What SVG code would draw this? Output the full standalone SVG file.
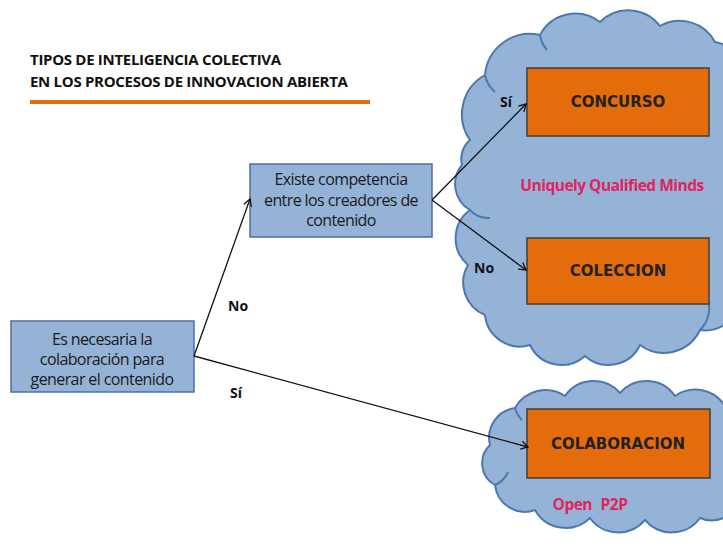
<svg xmlns="http://www.w3.org/2000/svg" width="723" height="547" viewBox="0 0 723 547">
<style>
.title{font-family:"Open Sans","Liberation Sans",sans-serif;font-weight:bold;font-size:15px;fill:#111;letter-spacing:-0.3px}
.box{fill:#95b3d7;stroke:#4f6f9f;stroke-width:1.5}
.btxt{font-family:"Open Sans","Liberation Sans",sans-serif;font-size:16px;fill:#1a1a1a;text-anchor:middle;letter-spacing:-0.6px}
.obox{fill:#e46c0a;stroke:#3f3f3f;stroke-width:1.5}
.otxt{font-family:"DejaVu Sans","Liberation Sans",sans-serif;font-weight:bold;font-size:15px;fill:#222;text-anchor:middle}
.cloud{fill:#95b3d7;stroke:#4a78b0;stroke-width:2;stroke-linejoin:round}
.inner{fill:none;stroke:#4a78b0;stroke-width:2}
.lbl{font-family:"Open Sans","Liberation Sans",sans-serif;font-weight:bold;font-size:14px;fill:#111}
.red{font-family:"Open Sans","Liberation Sans",sans-serif;font-weight:bold;font-size:15.5px;fill:#e0245e;text-anchor:middle;letter-spacing:-0.5px}
.conn{fill:none;stroke:#111;stroke-width:1.3}
</style>
<defs>
<marker id="arr" markerWidth="10" markerHeight="10" refX="8" refY="5" orient="auto" markerUnits="userSpaceOnUse">
<path d="M1,1 L8,5 L1,9" fill="none" stroke="#111" stroke-width="1.3"/>
</marker>
</defs>
<rect width="723" height="547" fill="#fff"/>
<g id="title">
<text class="title" x="30" y="65">TIPOS DE INTELIGENCIA COLECTIVA</text>
<text class="title" x="30" y="87">EN LOS PROCESOS DE INNOVACION ABIERTA</text>
<line x1="30" y1="102" x2="370" y2="102" stroke="#e46c0a" stroke-width="4"/>
</g>
<g id="cloud1">
<path class="cloud" d="M470,140 A45,45 0 0 1 485,75 A45,45 0 0 1 540,35 A40,40 0 0 1 600,22 A40,40 0 0 1 660,26 A40,40 0 0 1 715,42 A30,30 0 0 1 740,70 L740,300 A35,35 0 0 1 700,330 A40,40 0 0 1 640,345 A35,35 0 0 1 585,356 A35,35 0 0 1 530,345 A35,35 0 0 1 485,315 A35,35 0 0 1 468,265 A35,35 0 0 1 470,210 A30,30 0 0 1 462,165 A25,25 0 0 1 470,140 Z"/>
<path class="inner" d="M485,75 A30,30 0 0 0 495,92"/>
<path class="inner" d="M540,35 A30,30 0 0 0 547,50"/>
<path class="inner" d="M470,210 A25,25 0 0 0 490,218"/>
<path class="inner" d="M700,330 A30,30 0 0 0 708,300"/>
</g>
<g id="cloud2">
<path class="cloud" d="M490,445 A30,30 0 0 1 515,408 A35,35 0 0 1 565,396 A35,35 0 0 1 620,393 A35,35 0 0 1 675,396 A35,35 0 0 1 725,406 A25,25 0 0 1 740,430 L740,500 A30,30 0 0 1 700,518 A35,35 0 0 1 645,520 A35,35 0 0 1 590,518 A35,35 0 0 1 535,510 A30,30 0 0 1 495,485 A25,25 0 0 1 490,445 Z"/>
<path class="inner" d="M515,408 A25,25 0 0 0 522,420"/>
<path class="inner" d="M495,485 A25,25 0 0 0 508,472"/>
</g>
<g id="n1">
<rect class="box" x="11" y="321" width="183" height="71"/>
<text class="btxt" x="102" y="345">Es necesaria la</text>
<text class="btxt" x="102" y="365">colaboración para</text>
<text class="btxt" x="102" y="385">generar el contenido</text>
</g>
<g id="n2">
<rect class="box" x="250" y="164" width="182" height="73"/>
<text class="btxt" x="341" y="185">Existe competencia</text>
<text class="btxt" x="341" y="206">entre los creadores de</text>
<text class="btxt" x="341" y="226">contenido</text>
</g>
<g id="n3">
<rect class="obox" x="527" y="68" width="182" height="68"/>
<text class="otxt" x="618" y="107">CONCURSO</text>
</g>
<g id="n4">
<rect class="obox" x="527" y="238" width="182" height="66"/>
<text class="otxt" x="618" y="276">COLECCION</text>
</g>
<g id="n5">
<rect class="obox" x="527" y="409" width="183" height="69"/>
<text class="otxt" x="618" y="449">COLABORACION</text>
</g>
<g id="connectors">
<path class="conn" d="M194,356 L250,199" marker-end="url(#arr)"/>
<path class="conn" d="M194,356 L528,447" marker-end="url(#arr)"/>
<path class="conn" d="M432,200 L526,104" marker-end="url(#arr)"/>
<path class="conn" d="M432,200 L526,270" marker-end="url(#arr)"/>
</g>
<g id="labels">
<text class="lbl" x="228" y="311">No</text>
<text class="lbl" x="230" y="398">Sí</text>
<text class="lbl" x="500" y="107">Sí</text>
<text class="lbl" x="474" y="273">No</text>
<text class="red" x="612" y="191">Uniquely Qualified Minds</text>
<text class="red" x="590" y="510" style="word-spacing:5px">Open P2P</text>
</g>
</svg>
